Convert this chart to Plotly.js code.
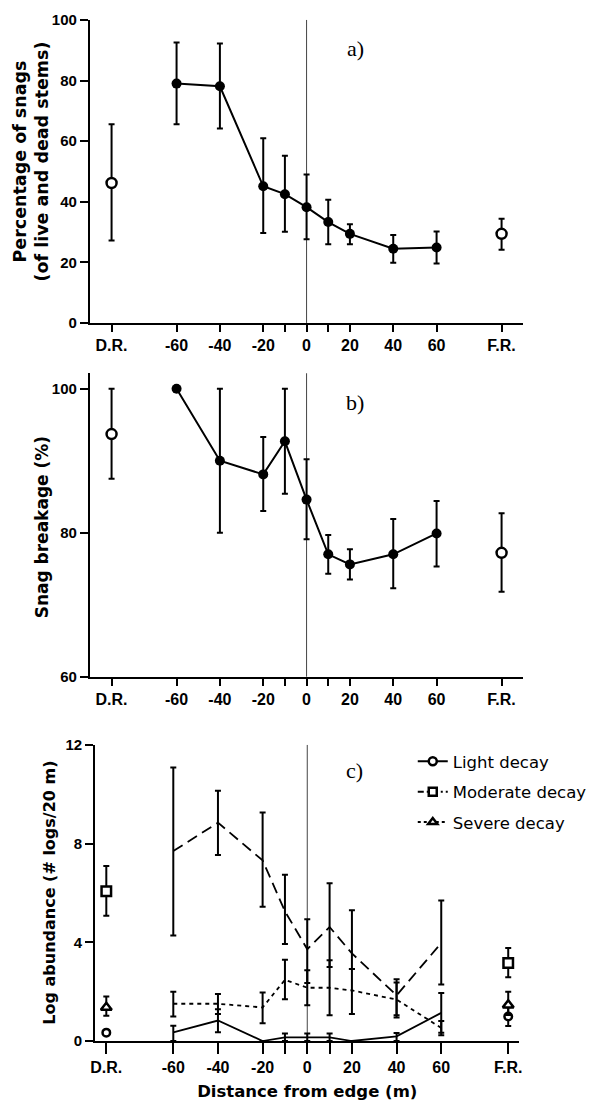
<!DOCTYPE html>
<html>
<head>
<meta charset="utf-8">
<script src="https://cdn.plot.ly/plotly-3.0.1.min.js"></script>
<style>html,body{margin:0;padding:0;background:#fff;}#chart{width:592px;height:1103px;}</style>
</head>
<body>
<div id="chart"></div>
<script>
// ---- categories / ticks ----
const distances = [-60, -40, -20, -10, 0, 10, 20, 40, 60];
const refSites = ['D.R.', 'F.R.'];
const refSiteX = [-90, 90];
const tickVals = [-90, -60, -40, -20, -10, 0, 10, 20, 40, 60, 90];
const tickText = ['D.R.', '-60', '-40', '-20', '', '0', '', '20', '40', '60', 'F.R.'];

// ---- a) percentage of snags ----
const snagPct   = [79.0, 78.1, 45.1, 42.5, 38.2, 33.3, 29.4, 24.5, 24.9];
const snagPctHi = [92.6, 92.2, 61.0, 55.2, 49.0, 40.7, 32.6, 29.0, 30.2];
const snagPctLo = [65.6, 64.2, 29.7, 30.1, 27.6, 26.0, 26.0, 19.9, 19.6];
const snagPctRef   = [46.2, 29.4];
const snagPctRefHi = [65.6, 34.4];
const snagPctRefLo = [27.2, 24.2];

// ---- b) snag breakage ----
const breakage   = [100, 90.0, 88.1, 92.7, 84.6, 77.0, 75.6, 77.0, 79.9];
const breakageHi = [100, 100, 93.3, 100, 90.2, 79.7, 77.7, 81.9, 84.4];
const breakageLo = [100, 80.0, 83.0, 85.4, 79.1, 74.3, 73.5, 72.3, 75.3];
const breakageRef   = [93.7, 77.2];
const breakageRefHi = [100, 82.7];
const breakageRefLo = [87.5, 71.8];

// ---- c) log abundance ----
const lightDecay   = [0.35, 0.83, 0, 0.15, 0.15, 0.15, 0, 0.19, 1.14];
const lightDecayHi = [0.62, 1.29, 0, 0.30, 0.30, 0.30, 0, 0.32, 1.95];
const lightDecayLo = [0, 0.36, 0, 0, 0, 0, 0, 0, 0.33];
const lightRef   = [0.34, 0.99];
const lightRefHi = [0.34, 1.37];
const lightRefLo = [0.34, 0.61];

const moderateDecay   = [7.70, 8.85, 7.32, 5.26, 3.72, 4.62, 3.55, 1.85, 3.97];
const moderateDecayHi = [11.09, 10.14, 9.26, 6.74, 4.94, 6.39, 5.30, 2.50, 5.70];
const moderateDecayLo = [4.28, 7.54, 5.44, 3.93, 2.35, 3.00, 2.92, 1.04, 2.29];
const moderateRef   = [6.07, 3.16];
const moderateRefHi = [7.09, 3.77];
const moderateRefLo = [5.08, 2.58];

const severeDecay   = [1.51, 1.51, 1.36, 2.48, 2.16, 2.16, 2.05, 1.68, 0.53];
const severeDecayHi = [2.00, 1.91, 1.97, 3.29, 2.87, 3.27, 2.92, 2.37, 0.81];
const severeDecayLo = [0.99, 1.10, 0.72, 1.69, 1.45, 1.04, 1.10, 0.95, 0.23];
const severeRef   = [1.36, 1.46];
const severeRefHi = [1.80, 2.00];
const severeRefLo = [1.02, 1.05];

const legendNames = ['Light decay', 'Moderate decay', 'Severe decay'];

// ---- helpers ----
const sub = (a, b) => a.map((v, i) => +(v - b[i]).toFixed(4));
function err(val, hi, lo, w) {
  return {type: 'data', symmetric: false, array: sub(hi, val), arrayminus: sub(val, lo),
          color: '#000', thickness: 2, width: w || 3};
}
const BLACK = '#000';

const traces = [];
// panel a
traces.push({x: distances, y: snagPct, xaxis: 'x', yaxis: 'y', mode: 'lines+markers', showlegend: false,
  line: {color: BLACK, width: 2}, marker: {color: BLACK, size: 10},
  error_y: err(snagPct, snagPctHi, snagPctLo)});
traces.push({x: refSiteX, y: snagPctRef, text: refSites, xaxis: 'x', yaxis: 'y', mode: 'markers', showlegend: false,
  marker: {color: '#fff', size: 10, line: {color: BLACK, width: 2.5}},
  error_y: err(snagPctRef, snagPctRefHi, snagPctRefLo)});
// panel b
traces.push({x: distances, y: breakage, xaxis: 'x2', yaxis: 'y2', mode: 'lines+markers', showlegend: false,
  line: {color: BLACK, width: 2}, marker: {color: BLACK, size: 10},
  error_y: err(breakage, breakageHi, breakageLo)});
traces.push({x: refSiteX, y: breakageRef, text: refSites, xaxis: 'x2', yaxis: 'y2', mode: 'markers', showlegend: false,
  marker: {color: '#fff', size: 10, line: {color: BLACK, width: 2.5}},
  error_y: err(breakageRef, breakageRefHi, breakageRefLo)});
// panel c lines
const series = [
  {v: lightDecay, hi: lightDecayHi, lo: lightDecayLo, r: lightRef, rhi: lightRefHi, rlo: lightRefLo, dash: 'solid', sym: 'circle', size: 7.5},
  {v: moderateDecay, hi: moderateDecayHi, lo: moderateDecayLo, r: moderateRef, rhi: moderateRefHi, rlo: moderateRefLo, dash: '11px,6px', sym: 'square', size: 9.5},
  {v: severeDecay, hi: severeDecayHi, lo: severeDecayLo, r: severeRef, rhi: severeRefHi, rlo: severeRefLo, dash: '4px,4px', sym: 'triangle-up', size: 9.5}
];
series.forEach((s, i) => {
  traces.push({x: distances, y: s.v, xaxis: 'x3', yaxis: 'y3', mode: 'lines', name: legendNames[i], showlegend: false,
    line: {color: BLACK, width: 1.8, dash: s.dash}, error_y: err(s.v, s.hi, s.lo)});
});
series.forEach((s, i) => {
  traces.push({x: refSiteX, y: s.r, text: refSites, xaxis: 'x3', yaxis: 'y3', mode: 'markers', name: legendNames[i], showlegend: false,
    marker: {symbol: s.sym, color: '#fff', size: s.size, line: {color: BLACK, width: 2.5}},
    error_y: err(s.r, s.rhi, s.rlo)});
});
// legend entries
const legDash = ['solid', '6px,3px,2px,3px', '3px,3px'];
series.forEach((s, i) => {
  traces.push({x: [null], y: [null], xaxis: 'x3', yaxis: 'y3', mode: 'lines+markers', name: legendNames[i],
    legendgroup: 'g' + i, showlegend: true,
    line: {color: BLACK, width: 2, dash: legDash[i]},
    marker: {symbol: s.sym, color: '#fff', size: 8, line: {color: BLACK, width: 2.5}}});
});

const tickFontX = {family: 'Liberation Sans, Arial, sans-serif', size: 16, color: '#000', weight: 'bold'};
const tickFontY = {family: 'Liberation Sans, Arial, sans-serif', size: 15, color: '#000', weight: 'bold'};
function xax(domain, range, anchor, tl) {
  return {domain: domain, range: range, anchor: anchor, tickmode: 'array', tickvals: tickVals, ticktext: tickText,
    ticks: 'outside', ticklen: tl, tickwidth: 2, tickcolor: '#000', showline: true, linewidth: 2, linecolor: '#000',
    showgrid: false, zeroline: false, tickfont: tickFontX, fixedrange: true};
}
function yax(domain, range, vals, anchor) {
  return {domain: domain, range: range, anchor: anchor, tickmode: 'array', tickvals: vals,
    ticks: 'outside', ticklen: 8, tickwidth: 2, tickcolor: '#000', showline: true, linewidth: 2, linecolor: '#000',
    showgrid: false, zeroline: false, tickfont: tickFontY, fixedrange: true};
}
const yTitleFont = (sz) => ({family: 'DejaVu Sans, sans-serif', size: sz, color: '#000', weight: 'bold'});
const panelFont = {family: 'Liberation Serif, Times New Roman, serif', size: 22, color: '#000'};

const layout = {
  width: 592, height: 1103,
  margin: {l: 0, r: 0, t: 0, b: 0},
  paper_bgcolor: '#fff', plot_bgcolor: '#fff',
  showlegend: true,
  legend: {x: 0.708, xanchor: 'left', y: 0.3255, yanchor: 'top', bgcolor: 'rgba(0,0,0,0)',
    font: {family: 'DejaVu Sans, sans-serif', size: 16.5, color: '#000'}, tracegroupgap: 6, itemwidth: 30},
  xaxis: xax([0.1542, 0.8975], [-100, 100], 'y', 7),
  yaxis: yax([0.7072, 0.9819], [0, 100], [0, 20, 40, 60, 80, 100], 'x'),
  xaxis2: xax([0.1542, 0.8975], [-100, 100], 'y2', 7),
  yaxis2: yax([0.3865, 0.6616], [60, 102.15], [60, 80, 100], 'x2'),
  xaxis3: Object.assign(xax([0.1632, 0.8909], [-95, 95], 'y3', 11),
    {title: {text: 'Distance from edge (m)', font: yTitleFont(16.5), standoff: 10}}),
  yaxis3: yax([0.0562, 0.3246], [0, 12], [0, 4, 8, 12], 'x3'),
  shapes: ['', '2', '3'].map(k => ({type: 'line', xref: 'x' + k, yref: 'y' + k + ' domain', x0: 0, x1: 0, y0: 0, y1: 1,
    line: {color: '#444', width: 1}, layer: 'below'})),
  annotations: [
    {text: 'Percentage of snags<br>(of live and dead stems)', xref: 'paper', yref: 'paper', x: 0.0524, y: 0.8531,
     xanchor: 'center', yanchor: 'middle', textangle: -90, showarrow: false, font: yTitleFont(17.5)},
    {text: 'Snag breakage (%)', xref: 'paper', yref: 'paper', x: 0.0726, y: 0.5222,
     xanchor: 'center', yanchor: 'middle', textangle: -90, showarrow: false, font: yTitleFont(17)},
    {text: 'Log abundance (# logs/20 m)', xref: 'paper', yref: 'paper', x: 0.0845, y: 0.1909,
     xanchor: 'center', yanchor: 'middle', textangle: -90, showarrow: false, font: yTitleFont(16)},
    {text: 'a)', xref: 'paper', yref: 'paper', x: 0.6098, y: 0.9556, xanchor: 'center', yanchor: 'middle', showarrow: false, font: panelFont},
    {text: 'b)', xref: 'paper', yref: 'paper', x: 0.6081, y: 0.6355, xanchor: 'center', yanchor: 'middle', showarrow: false, font: panelFont},
    {text: 'c)', xref: 'paper', yref: 'paper', x: 0.6081, y: 0.3019, xanchor: 'center', yanchor: 'middle', showarrow: false, font: panelFont}
  ]
};

Plotly.newPlot('chart', traces, layout, {displayModeBar: false, staticPlot: true});
</script>
</body>
</html>
